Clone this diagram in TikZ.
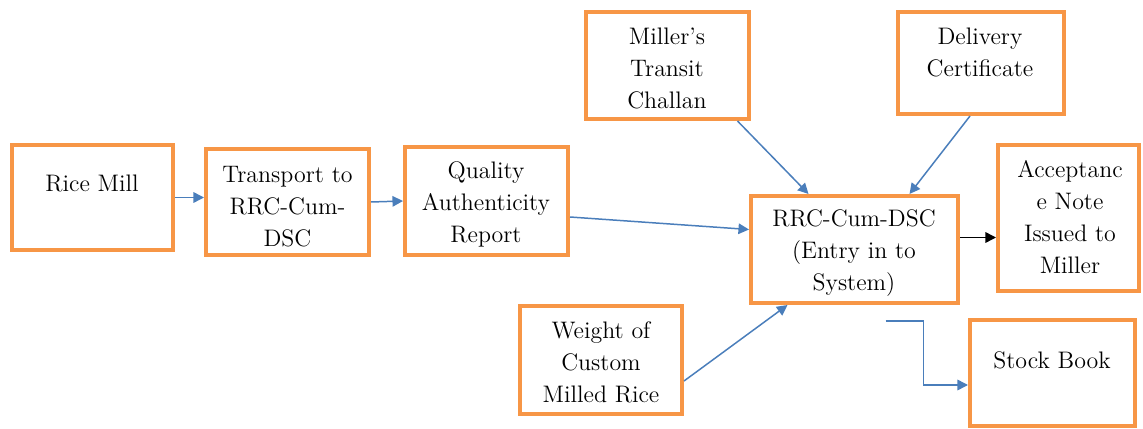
\documentclass[tikz,border=0pt]{standalone}
\usepackage{fontspec}
\usepackage{tikz}
\usetikzlibrary{arrows.meta, positioning, calc}
\definecolor{boxorange}{HTML}{F79646}
\definecolor{flowblue}{HTML}{4A7EBB}

\begin{document}
\begin{tikzpicture}[x=0.02cm, y=-0.02cm,
    box/.style={draw=boxorange, line width=2.3pt, inner sep=0pt},
    txt/.style={align=center, inner sep=0pt, font=\fontsize{13.6}{18.2}\selectfont},
    flow/.style={draw=flowblue, line width=0.85pt, -{Triangle[length=6pt, width=6pt]}},
    blackflow/.style={draw=black, line width=0.85pt, -{Triangle[length=6pt, width=6pt]}}]
    \useasboundingbox (0,0) rectangle (1143,429);

    % boxes
    \node[box, minimum width=3.22cm, minimum height=2.10cm] (rice) at (92.5,197.5) {};
    \node[box, minimum width=3.26cm, minimum height=2.12cm] (transport) at (287.5,202) {};
    \node[box, minimum width=3.26cm, minimum height=2.16cm] (quality) at (486.5,201) {};
    \node[box, minimum width=4.14cm, minimum height=2.14cm] (rrc) at (854.5,249.5) {};
    \node[box, minimum width=2.82cm, minimum height=2.92cm] (accept) at (1068.5,218) {};
    \node[box, minimum width=3.30cm, minimum height=2.12cm] (stock) at (1052.5,373) {};
    \node[box, minimum width=3.26cm, minimum height=2.14cm] (millers) at (667.5,65.5) {};
    \node[box, minimum width=3.32cm, minimum height=2.04cm] (delivery) at (981,63) {};
    \node[box, minimum width=3.24cm, minimum height=2.16cm] (weight) at (601,360) {};

    % texts
    \node[txt] (ricetxt) at (92,183) {Rice Mill};
    \node[txt] (transporttxt) at (287.5,207) {Transport to\\RRC-Cum-\\DSC};
    \node[txt] (qualitytxt) at (486,204) {Quality\\Authenticity\\Report};
    \node[txt] (rrctxt) at (854,253) {RRC-Cum-DSC\\(Entry in to\\System)};
    \node[txt] (accepttxt) at (1070,217) {Acceptanc\\e Note\\Issued to\\Miller};
    \node[txt] (stocktxt) at (1052,360) {Stock Book};
    \node[txt] (millerstxt) at (667,68) {Miller’s\\Transit\\Challan};
    \node[txt] (deliverytxt) at (980,52) {Delivery\\Certificate};
    \node[txt] (weighttxt) at (601,362) {Weight of\\Custom\\Milled Rice};

    % arrows
    \draw[flow] (rice.east) -- (transport.west |- rice.east);
    \draw[flow] (transport.east) -- (quality.west);
    \draw[flow] ($(quality.east)+(0,16)$) -- ($(rrc.west)+(0,-20)$);
    \draw[flow] ($(millers.south)+(70,0)$) -- ($(rrc.north)+(-46,0)$);
    \draw[flow] ($(delivery.south)+(-11,0)$) -- ($(rrc.north)+(55,0)$);
    \draw[flow] ($(weight.east)+(0,21)$) -- ($(rrc.south)+(-67,0)$);
    \coordinate (outstart) at ($(rrc.east)+(0,-12)$);
    \draw[blackflow] (outstart) -- (outstart -| accept.west);
    \coordinate (stockstart) at ($(rrc.south)+(31,16)$);
    \draw[flow] (stockstart) -- ++(38,0) |- ($(stock.west)+(0,12)$);
\end{tikzpicture}
\end{document}
